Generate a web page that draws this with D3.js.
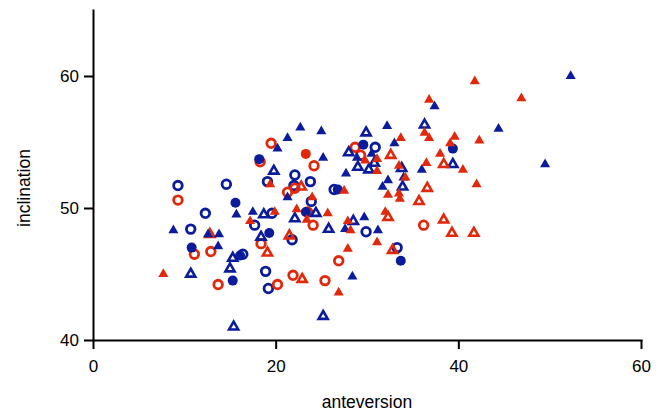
<!DOCTYPE html>
<html>
<head>
<meta charset="utf-8">
<script src="https://cdn.jsdelivr.net/npm/d3@7"></script>
<style>
  body { margin: 0; background: #fff; }
  #chart { width: 662px; height: 413px; }
  .axis text { font-family: "Liberation Sans", Arial, sans-serif; font-size: 17px; fill: #000; }
  .axis path, .axis line { stroke: #000; stroke-width: 2px; }
  .label { font-family: "Liberation Sans", Arial, sans-serif; font-size: 17.5px; fill: #000; }
</style>
</head>
<body>
<div id="chart"></div>
<script>
//Colores
const BLUE = '#0a1c9c',
RED = '#e2280b';

//Ticks
const xTicks = [0, 20, 40, 60];
const yTicks = [40, 50, 60];

//Datos: [anteversion, inclination]
const blueFilledTri = [
  [20.2,54.5],[21.3,55.3],[22.7,56.1],[25.0,55.8],[25.2,53.8],[27.7,52.6],[32.2,56.2],[33.0,54.9],
  [30.5,54.1],[28.9,53.8],[32.3,52.1],[31.7,51.6],[34.0,52.3],[36.0,52.9],[37.4,57.7],[44.4,56.0],
  [52.3,60.0],[49.5,53.3],[21.3,50.8],[15.7,49.5],[17.5,49.7],[8.8,48.3],[12.6,48.0],[13.8,48.0],
  [13.7,47.1],[27.6,48.4],[29.7,49.3],[31.2,48.3],[28.4,44.8]
];
const redFilledTri = [
  [19.4,51.8],[19.9,49.7],[17.2,49.0],[7.7,45.0],[24.0,50.8],[22.3,49.9],[23.4,49.1],[25.7,49.6],
  [27.5,51.3],[27.9,49.0],[28.2,48.3],[27.9,46.9],[26.9,43.6],[31.1,47.4],[32.0,49.7],[32.3,51.0],
  [33.5,51.1],[33.6,50.7],[34.2,52.3],[31.1,52.8],[31.1,53.7],[29.8,53.6],[33.7,55.3],[33.5,53.2],
  [36.3,55.7],[36.8,55.3],[36.8,58.2],[36.5,53.4],[38.0,54.1],[39.1,54.9],[39.6,55.4],[40.5,52.9],
  [41.8,59.6],[42.3,55.1],[42.0,51.8],[46.9,58.3]
];
const blueOpenTri = [
  [19.8,52.8],[18.7,49.5],[18.4,47.8],[15.3,46.2],[15.0,45.4],[10.7,45.0],[15.4,41.0],[22.1,49.2],
  [24.4,49.6],[25.8,48.4],[28.5,49.0],[25.2,41.8],[28.0,54.2],[29.9,55.7],[30.8,53.4],[29.0,53.1],
  [30.2,52.9],[33.8,53.0],[33.9,51.6],[36.3,56.3],[39.4,53.3]
];
const redOpenTri = [
  [12.8,48.0],[19.1,46.6],[22.8,51.6],[21.5,47.9],[22.9,44.6],[32.3,49.3],[32.6,54.0],[32.8,46.8],
  [35.7,50.5],[36.6,51.5],[38.4,49.1],[39.3,48.1],[41.7,48.1],[38.4,53.3]
];
const blueFilledCircle = [
  [18.2,53.7],[15.6,50.4],[19.3,48.1],[10.8,47.0],[16.1,46.4],[15.3,44.5],[23.3,49.7],[26.8,51.4],
  [29.6,54.8],[33.7,46.0],[39.4,54.5]
];
const redFilledCircle = [
  [23.3,54.1]
];
const blueOpenCircle = [
  [9.3,51.7],[14.6,51.8],[19.1,52.0],[12.3,49.6],[19.6,49.6],[17.7,48.7],[10.7,48.4],[16.4,46.5],
  [18.9,45.2],[19.2,43.9],[22.1,52.5],[23.8,52.0],[22.0,51.7],[23.9,50.5],[26.4,51.4],[30.9,54.6],
  [29.9,48.2],[21.8,47.6],[33.3,47.0]
];
const redOpenCircle = [
  [19.5,54.9],[18.3,53.5],[9.3,50.6],[11.1,46.5],[12.9,46.7],[13.7,44.2],[18.4,47.3],[20.2,44.2],
  [21.3,51.2],[22.1,51.5],[23.5,49.7],[24.1,48.7],[24.2,53.2],[21.9,44.9],[25.4,44.5],[26.9,46.0],
  [28.7,54.6],[29.3,54.0],[36.2,48.7]
];

let margin = {top: 10, right: 21, bottom: 73, left: 93},
    width = 662 - margin.left - margin.right,
    height = 413 - margin.top - margin.bottom;

let svg = d3.select('#chart')
    .append('svg')
        .attr('width', 662)
        .attr('height', 413)
    .append('g')
        .attr('transform', 'translate(' + margin.left + ',' + margin.top + ')');

let x = d3.scaleLinear().domain([0, 60]).range([0, width]);
let y = d3.scaleLinear().domain([40, 65]).range([height, 0]);

//Ejes
svg.append('g')
    .attr('class', 'axis')
    .attr('transform', 'translate(0,' + height + ')')
    .call(d3.axisBottom(x).tickValues(xTicks).tickSize(9).tickSizeOuter(0).tickPadding(8))
    .call(function(g){ g.selectAll('.tick text').attr('dy', '0.9em'); });

svg.append('g')
    .attr('class', 'axis')
    .call(d3.axisLeft(y).tickValues(yTicks).tickSize(9).tickSizeOuter(0).tickPadding(5));

svg.selectAll('.axis .domain').attr('stroke-linecap', 'square');

//Etiquetas
svg.append('text')
    .attr('class', 'label')
    .attr('x', width / 2)
    .attr('y', height + 68)
    .attr('text-anchor', 'middle')
    .text('anteversion');

svg.append('text')
    .attr('class', 'label')
    .attr('transform', 'translate(' + (-63) + ',' + (height / 2 + 13) + ') rotate(-90)')
    .attr('text-anchor', 'middle')
    .text('inclination');

//Puntos
function drawCircles(data, color, filled) {
    svg.append('g')
        .selectAll('circle')
        .data(data)
        .enter()
        .append('circle')
        .attr('cx', function(d) { return x(d[0]); })
        .attr('cy', function(d) { return y(d[1]); })
        .attr('r', filled ? 5 : 4.3)
        .attr('fill', filled ? color : 'none')
        .attr('stroke', filled ? 'none' : color)
        .attr('stroke-width', 2.8);
}

function drawTriangles(data, color, filled) {
    let sym = d3.symbol().type(d3.symbolTriangle).size(filled ? 44 : 36);
    svg.append('g')
        .selectAll('path')
        .data(data)
        .enter()
        .append('path')
        .attr('d', sym)
        .attr('transform', function(d) { return 'translate(' + x(d[0]) + ',' + y(d[1]) + ')'; })
        .attr('fill', filled ? color : 'none')
        .attr('stroke', filled ? 'none' : color)
        .attr('stroke-width', 2.6);
}

drawCircles(blueOpenCircle, BLUE, false);
drawCircles(redOpenCircle, RED, false);
drawTriangles(blueOpenTri, BLUE, false);
drawTriangles(redOpenTri, RED, false);
drawCircles(blueFilledCircle, BLUE, true);
drawCircles(redFilledCircle, RED, true);
drawTriangles(blueFilledTri, BLUE, true);
drawTriangles(redFilledTri, RED, true);
</script>
</body>
</html>
